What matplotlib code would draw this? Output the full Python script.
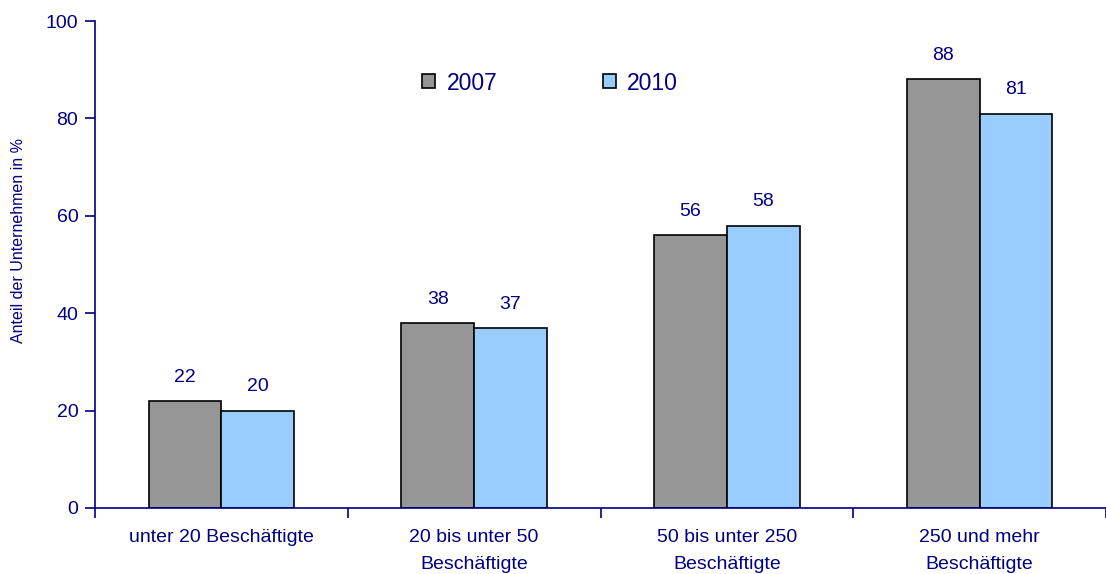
import matplotlib
matplotlib.use("Agg")
import matplotlib.pyplot as plt
import numpy as np
from matplotlib.patches import Patch

categories = ["unter 20 Beschäftigte", "20 bis unter 50\nBeschäftigte",
              "50 bis unter 250\nBeschäftigte", "250 und mehr\nBeschäftigte"]
values_2007 = [22, 38, 56, 88]
values_2010 = [20, 37, 58, 81]
series_names = ["2007", "2010"]
y_ticks = [0, 20, 40, 60, 80, 100]

navy = "#000080"
gray = "#969696"
blue = "#99CCFF"

plt.rcParams['font.family'] = ['Liberation Sans', 'DejaVu Sans']

fig = plt.figure(figsize=(11.06, 5.74), dpi=100)
ax = fig.add_axes([95/1106, 66/574, 1 - 95/1106, (508-21)/574])

x = np.arange(len(categories))
w = 0.288
b1 = ax.bar(x - w/2, values_2007, w, color=gray, edgecolor="black", linewidth=1.2)
b2 = ax.bar(x + w/2, values_2010, w, color=blue, edgecolor="black", linewidth=1.2)

for bars, vals in ((b1, values_2007), (b2, values_2010)):
    for r, v in zip(bars, vals):
        ax.annotate(str(v), (r.get_x() + r.get_width()/2, v), xytext=(0, 11),
                    textcoords="offset points", ha="center", va="bottom",
                    color=navy, fontsize=14)

ax.set_xlim(-0.5, len(categories) - 0.5)
ax.set_ylim(0, 100)
ax.set_yticks(y_ticks)
ax.set_xticks(np.arange(len(categories) + 1) - 0.5)
ax.set_xticklabels([])
ax.set_xticks(x, minor=True)
ax.set_xticklabels(categories, minor=True, color=navy, fontsize=14, linespacing=1.75)
ax.tick_params(axis="x", which="minor", length=0, pad=15)
ax.tick_params(axis="x", which="major", length=7, color=navy, width=1.2, direction="out")
ax.tick_params(axis="y", length=7, color=navy, width=1.2, labelcolor=navy, labelsize=14, pad=5)
for s in ["top", "right"]:
    ax.spines[s].set_visible(False)
for s in ["left", "bottom"]:
    ax.spines[s].set_color(navy)
    ax.spines[s].set_linewidth(1.2)
ax.set_ylabel("Anteil der Unternehmen in %", color=navy, fontsize=11.5, labelpad=12)
ax.yaxis.set_label_coords(-0.068, 0.55)

handles = [Patch(facecolor=gray, edgecolor="black", linewidth=1.2),
           Patch(facecolor=blue, edgecolor="black", linewidth=1.2)]
leg = ax.legend(handles, series_names, loc="center",
                frameon=False, ncol=2, fontsize=16.5, handlelength=0.57, handleheight=0.57,
                handletextpad=0.48, columnspacing=4.6)
leg.set_bbox_to_anchor((550/1106, 1 - 83/574), transform=fig.transFigure)
for t in leg.get_texts():
    t.set_color(navy)

fig.savefig("out.png", dpi=100)
